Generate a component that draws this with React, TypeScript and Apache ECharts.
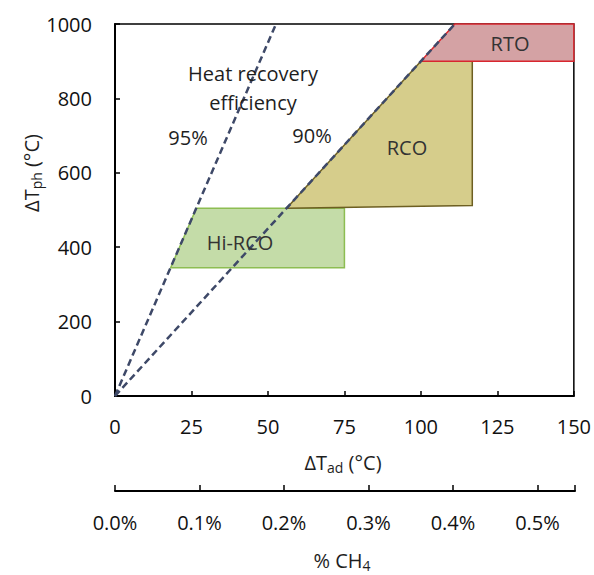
import React, { useEffect, useRef } from "react";
import * as echarts from "echarts";

// Axis ticks
const xTicks = [0, 25, 50, 75, 100, 125, 150];
const yTicks = [0, 200, 400, 600, 800, 1000];
const ch4Ticks = [0, 0.1, 0.2, 0.3, 0.4, 0.5];
const ch4Max = 0.5444; // %CH4 equivalent of 150 °C

// Heat recovery efficiency lines (ΔTph = η/(1-η)·ΔTad)
const line95 = [[0, 0], [52.63, 1000]];
const line90 = [[0, 0], [111.1, 1000]];

// Operating regions (ΔTad, ΔTph)
const hiRcoX = [18.2, 75, 75, 26.6];
const hiRcoY = [345, 345, 505, 505];
const rcoX = [56.1, 116.8, 116.8, 100];
const rcoY = [505, 512, 900, 900];
const rtoX = [100, 150, 150, 111.1];
const rtoY = [900, 900, 1000, 1000];

const FONT = "Open Sans";
const FS = 20;

function polygonSeries(name: string, xs: number[], ys: number[], fill: string, stroke: string) {
  return {
    type: "custom",
    name,
    xAxisIndex: 0,
    yAxisIndex: 0,
    z: 1,
    data: [[xs[0], ys[0]]],
    renderItem: (_p: any, api: any) => ({
      type: "polygon",
      shape: { points: xs.map((x, i) => api.coord([x, ys[i]])) },
      style: { fill, stroke, lineWidth: 1.5 },
    }),
  };
}

export default function App() {
  const ref = useRef<HTMLDivElement>(null);
  useEffect(() => {
    const chart = echarts.init(ref.current!, null, { renderer: "svg" });
    const txt = (text: string, x: number, y: number, extra: any = {}) => ({
      type: "text",
      x,
      y,
      style: {
        text,
        fill: "#1e1e1e",
        font: `${FS}px "${FONT}"`,
        align: "center",
        verticalAlign: "middle",
        ...extra,
      },
      z: 10,
    });
    const sub = { sub: { fontSize: 14, fontFamily: FONT, fill: "#1e1e1e", padding: [11, 0, 0, 0] } };
    chart.setOption({
      animation: false,
      textStyle: { fontFamily: FONT },
      grid: [
        { left: 115, top: 24, width: 460, height: 372, show: true, borderColor: "#000", borderWidth: 1.5, backgroundColor: "transparent" },
        { left: 115, top: 480, width: 460, height: 11 },
      ],
      xAxis: [
        {
          gridIndex: 0,
          type: "value",
          min: 0,
          max: 150,
          interval: 25,
          axisLine: { show: true, lineStyle: { color: "#000", width: 2 } },
          axisTick: { show: true, inside: true, length: 5, lineStyle: { color: "#000", width: 1.5 } },
          axisLabel: { fontSize: FS, color: "#111", margin: 20, fontFamily: FONT, formatter: (v: number) => (xTicks.includes(v) ? String(v) : "") },
          splitLine: { show: false },
        },
        {
          gridIndex: 1,
          type: "value",
          min: 0,
          max: ch4Max,
          axisLine: { show: true, lineStyle: { color: "#000", width: 2 } },
          axisTick: { show: true, inside: true, length: 6, lineStyle: { color: "#000", width: 1.5 }, customValues: [...ch4Ticks, ch4Max] },
          axisLabel: { fontSize: FS, color: "#111", margin: 21, fontFamily: FONT, customValues: ch4Ticks, formatter: (v: number) => v.toFixed(1) + "%" },
          splitLine: { show: false },
        },
      ],
      yAxis: [
        {
          gridIndex: 0,
          type: "value",
          min: 0,
          max: 1000,
          interval: 200,
          axisLine: { show: true, lineStyle: { color: "#000", width: 2 } },
          axisTick: { show: true, inside: true, length: 5, lineStyle: { color: "#000", width: 1.5 } },
          axisLabel: { fontSize: FS, color: "#111", margin: 23, fontFamily: FONT, formatter: (v: number) => (yTicks.includes(v) ? String(v) : "") },
          splitLine: { show: false },
        },
        { gridIndex: 1, type: "value", show: false, min: 0, max: 1 },
      ],
      series: [
        polygonSeries("Hi-RCO", hiRcoX, hiRcoY, "#c4dca8", "#8dbd52"),
        polygonSeries("RCO", rcoX, rcoY, "#d6cd8b", "#6d5f22"),
        polygonSeries("RTO", rtoX, rtoY, "#d4a2a4", "#d8262e"),
        {
          type: "line",
          name: "95%",
          data: line95,
          showSymbol: false,
          z: 3,
          lineStyle: { type: [7, 4], width: 2.5, color: "#3e4968" },
        },
        {
          type: "line",
          name: "90%",
          data: line90,
          showSymbol: false,
          z: 3,
          lineStyle: { type: [7, 4], width: 2.5, color: "#3e4968" },
        },
      ],
      graphic: [
        txt("Heat recovery", 253, 73),
        txt("efficiency", 253, 102),
        txt("95%", 188, 137),
        txt("90%", 312, 135),
        txt("Hi-RCO", 240, 242, { fill: "#333" }),
        txt("RCO", 407, 147, { fill: "#333" }),
        txt("RTO", 510, 43, { fill: "#333" }),
        {
          type: "text",
          x: 343,
          y: 462,
          style: {
            text: "ΔT{sub|ad} (°C)",
            font: `${FS}px "${FONT}"`,
            fill: "#1e1e1e",
            align: "center",
            verticalAlign: "middle",
            rich: sub,
          },
        },
        {
          type: "text",
          x: 342,
          y: 560,
          style: {
            text: "% CH{sub|4}",
            font: `${FS}px "${FONT}"`,
            fill: "#1e1e1e",
            align: "center",
            verticalAlign: "middle",
            rich: sub,
          },
        },
        {
          type: "text",
          x: 31,
          y: 173,
          rotation: Math.PI / 2,
          style: {
            text: "ΔT{sub|ph} (°C)",
            font: `${FS}px "${FONT}"`,
            fill: "#1e1e1e",
            align: "center",
            verticalAlign: "middle",
            rich: sub,
          },
        },
      ],
    });
    return () => chart.dispose();
  }, []);
  return <div ref={ref} style={{ width: 594, height: 575, position: "absolute", left: 0, top: 0 }} />;
}
